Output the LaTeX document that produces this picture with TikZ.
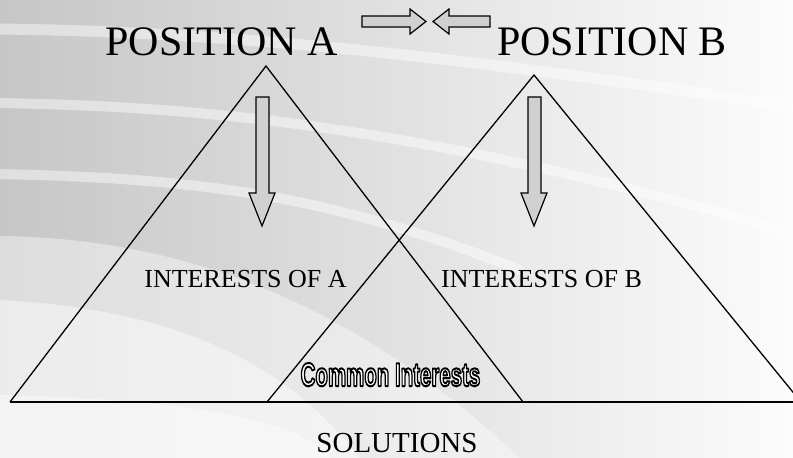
\documentclass[tikz,border=0pt]{standalone}
\usepackage{fontspec}
\setmainfont{Liberation Serif}
\newfontfamily\cifont{Liberation Sans}
\usepackage{graphicx}
\definecolor{bgleft}{RGB}{198,198,198}
\definecolor{bgright}{RGB}{252,252,252}
\definecolor{arrowfill}{RGB}{208,208,208}
\newcommand{\outlinedtext}[1]{\special{pdf:literal direct 0 G 2 Tr 2.0 w 1 j}#1\special{pdf:literal direct 0 Tr}}
\tikzset{
  tri/.style={draw=black, line width=1.3pt, line join=miter},
  baseline/.style={draw=black, line width=2pt},
  blockarrow/.style={draw=black, fill=arrowfill, line width=1.2pt, line join=miter},
  swoosh/.style={draw=white, opacity=0.45, line cap=round},
  bigtxt/.style={font=\fontsize{42}{48}\selectfont, inner sep=0pt, anchor=base},
  midtxt/.style={font=\fontsize{26}{30}\selectfont, inner sep=0pt, anchor=base},
  soltxt/.style={font=\fontsize{29}{33}\selectfont, inner sep=0pt, anchor=base},
  citxt/.style={font=\cifont\bfseries\fontsize{33}{37}\selectfont, inner sep=0pt, anchor=base, text=white},
}
\begin{document}
\begin{tikzpicture}[x=1pt,y=-1pt]
\useasboundingbox (0,0) rectangle (793,458);
\clip (0,0) rectangle (793,458);
% background
\fill[left color=bgleft, right color=bgright] (0,0) rectangle (793,458);
\fill[white, opacity=0.4] (0,236) .. controls (150,238) and (330,280) .. (520,458) -- (0,458) -- cycle;
\fill[white, opacity=0.45] (0,300) .. controls (200,310) and (300,380) .. (360,458) -- (0,458) -- cycle;
\fill[white, opacity=0.4] (0,395) .. controls (200,400) and (300,420) .. (330,458) -- (0,458) -- cycle;
\draw[swoosh, line width=11pt] (-5,29) .. controls (200,31) and (420,50) .. (800,108);
\draw[swoosh, line width=10pt] (-5,103) .. controls (200,106) and (420,125) .. (800,235);
\draw[swoosh, line width=10pt] (-5,174) .. controls (200,178) and (330,195) .. (520,270);
% triangles
\coordinate (Aapex) at (266,66);
\coordinate (Aleft) at (10,402);
\coordinate (Aright) at (523,402);
\coordinate (Bapex) at (534,75);
\coordinate (Bleft) at (267,402);
\coordinate (Bright) at (801,402);
\draw[tri] (Aleft) -- (Aapex) -- (Aright);
\draw[tri] (Bleft) -- (Bapex) -- (Bright);
\draw[baseline] (Aleft) -- (Bright);
% top arrows
\draw[blockarrow] (362,16) -- (410,16) -- (410,9) -- (426,21.5) -- (410,34) -- (410,27) -- (362,27) -- cycle;
\draw[blockarrow] (490,16) -- (449,16) -- (449,9) -- (433,21.5) -- (449,34) -- (449,27) -- (490,27) -- cycle;
% down arrows
\draw[blockarrow] (256,97) -- (269,97) -- (269,193) -- (275,193) -- (262,226) -- (249,193) -- (256,193) -- cycle;
\draw[blockarrow] (528,97) -- (541,97) -- (541,193) -- (547,193) -- (534,226) -- (521,193) -- (528,193) -- cycle;
% texts
\node[bigtxt] (posA) at (221.5,55) {POSITION A};
\node[bigtxt] (posB) at (612,55) {POSITION B};
\node[midtxt] (intA) at (245.5,287) {INTERESTS OF A};
\node[midtxt] (intB) at (541.5,287) {INTERESTS OF B};
\node[soltxt] (sol) at (397,452) {SOLUTIONS};
\node[citxt] (common) at (390.5,386) {\scalebox{0.62}[1]{\outlinedtext{Common Interests}}};
\end{tikzpicture}
\end{document}
